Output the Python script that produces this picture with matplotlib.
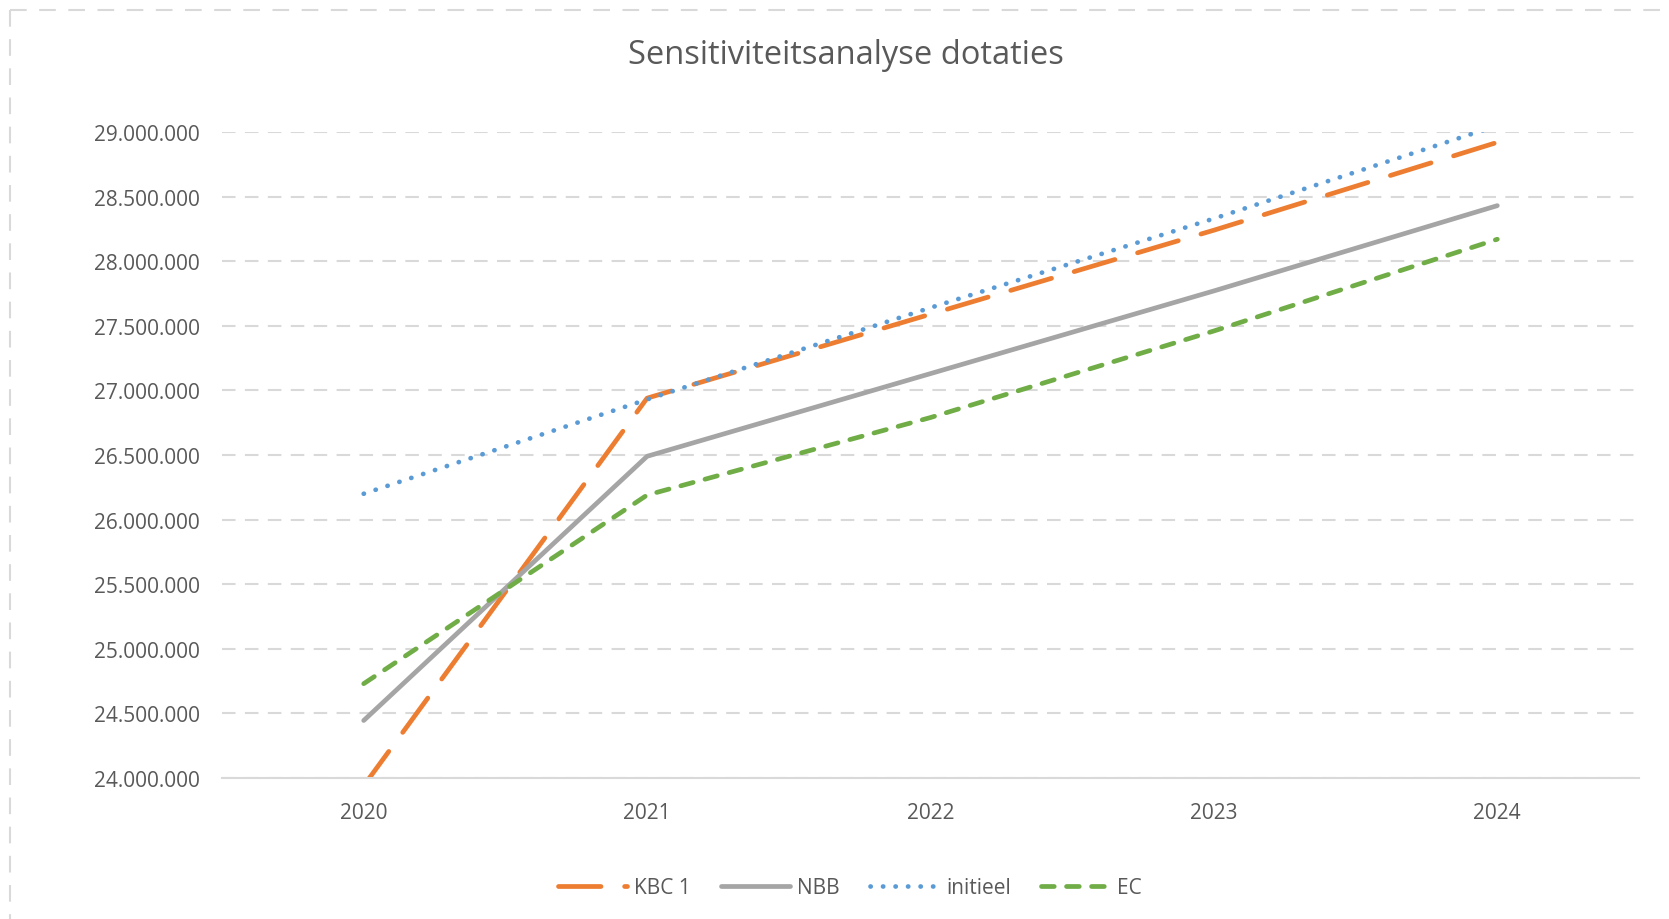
import matplotlib
matplotlib.use('Agg')
import matplotlib.pyplot as plt
from matplotlib.lines import Line2D
from matplotlib.ticker import FuncFormatter

plt.rcParams['font.family'] = ['Open Sans', 'DejaVu Sans']

# data
years = ['2020', '2021', '2022', '2023', '2024']
kbc1 = [23.94e6, 26.94e6, 27.59e6, 28.24e6, 28.92e6]
nbb = [24.445e6, 26.49e6, 27.13e6, 27.77e6, 28.43e6]
initieel = [26.20e6, 26.93e6, 27.64e6, 28.33e6, 29.05e6]
ec = [24.73e6, 26.19e6, 26.79e6, 27.46e6, 28.17e6]
yticks = [24e6 + 500000 * i for i in range(11)]

txt = '#595959'
grid = '#D9D9D9'
lw = 3.4

fig = plt.figure(figsize=(16.69, 9.2), dpi=100)
ax = fig.add_axes([222 / 1669, 1 - 779 / 920, (1639 - 222) / 1669, (779 - 133) / 920])

x = range(len(years))
common = dict(lw=lw, dash_capstyle='round', solid_capstyle='round',
              solid_joinstyle='round', dash_joinstyle='round')
ax.plot(x, kbc1, color='#ED7D31', ls=(0, (9, 5)), label='KBC 1', **common)
ax.plot(x, nbb, color='#A5A5A5', ls='-', label='NBB', **common)
ax.plot(x, initieel, color='#5B9BD5', ls=(0, (0.05, 2.6)), label='initieel', **common)
ax.plot(x, ec, color='#70AD47', ls=(0, (2.7, 2.6)), label='EC', **common)

ax.set_xlim(-0.5, 4.5)
ax.set_ylim(24e6, 29e6)
ax.set_xticks(list(x))
ax.set_xticklabels(years)
ax.set_yticks(yticks)
ax.yaxis.set_major_formatter(FuncFormatter(lambda v, p: f"{int(round(v)):,}".replace(',', '.')))
ax.tick_params(axis='both', length=0, labelsize=15, labelcolor=txt)
ax.tick_params(axis='y', pad=16)
ax.tick_params(axis='x', pad=17)

ax.yaxis.grid(True, color=grid, lw=1.5, ls=(0, (6.5, 4.5)))
ax.set_axisbelow(True)
for s in ['top', 'right', 'left']:
    ax.spines[s].set_visible(False)
ax.spines['bottom'].set_color(grid)
ax.spines['bottom'].set_linewidth(1.5)

fig.text(846 / 1669, 1 - 56 / 920, 'Sensitiviteitsanalyse dotaties',
         ha='center', va='center', fontsize=23.5, color=txt)

leg = fig.legend(loc='center', bbox_to_anchor=(850 / 1669, 1 - 889 / 920), ncol=4,
                 frameon=False, fontsize=15, handlelength=3.3, handletextpad=0.35,
                 columnspacing=1.45, labelcolor=txt)

# dashed outer chart border (only top and left fall inside the image)
fig.add_artist(Line2D([10 / 1669, 1.0], [1 - 11 / 920, 1 - 11 / 920], color=grid,
                      lw=1.5, ls=(0, (8, 6)), transform=fig.transFigure))
fig.add_artist(Line2D([10 / 1669, 10 / 1669], [1 - 11 / 920, 0.0], color=grid,
                      lw=1.5, ls=(0, (8, 6)), transform=fig.transFigure))

fig.savefig('out.png', dpi=100, facecolor='white')
